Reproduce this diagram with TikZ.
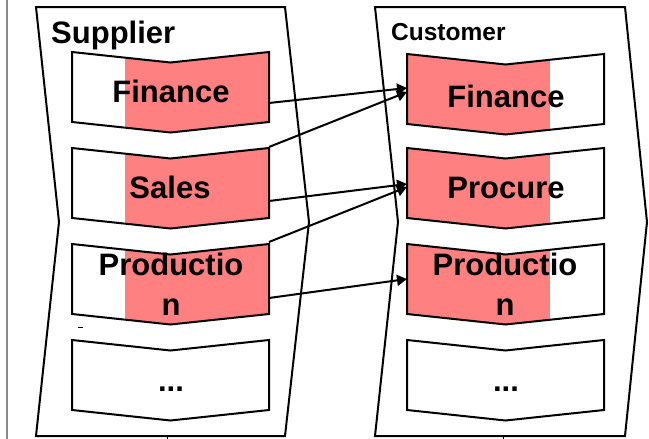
\documentclass[tikz,border=0pt]{standalone}
\usepackage{fontspec}
\setmainfont{Liberation Sans}
\usetikzlibrary{arrows.meta}
\definecolor{boxred}{RGB}{255,128,128}
\definecolor{edgegray}{RGB}{138,138,138}
\tikzset{
  boxline/.style={draw=black, line width=2pt},
  outerline/.style={draw=black, line width=2pt},
  conn/.style={draw=black, line width=2pt, -{Triangle[length=10pt,width=11pt]}},
  lbl/.style={inner sep=0pt, font=\fontsize{31}{40}\selectfont\bfseries, align=center},
}
\newcommand\chevfilled[4]{%
  \begin{scope}
    \clip (#1,#2) -- (#1+98.5,#2+10.5) -- (#1+197,#2) -- (#1+197,#2+70) -- (#1+98.5,#2+80.5) -- (#1,#2+70) -- cycle;
    \fill[boxred] (#3,#2-3) rectangle (#4,#2+86);
  \end{scope}
  \draw[boxline] (#1,#2) -- (#1+98.5,#2+10.5) -- (#1+197,#2) -- (#1+197,#2+70) -- (#1+98.5,#2+80.5) -- (#1,#2+70) -- cycle;
}
\newcommand\chevempty[2]{%
  \draw[boxline] (#1,#2) -- (#1+98.5,#2+10.5) -- (#1+197,#2) -- (#1+197,#2+70) -- (#1+98.5,#2+80.5) -- (#1,#2+70) -- cycle;
}
\begin{document}
\begin{tikzpicture}[x=1pt,y=-1pt]
\useasboundingbox[fill=white] (0,0) rectangle (649,439);
% left grey rule
\draw[edgegray, line width=2.5pt] (7,0) -- (7,439);
% outer chevrons
\draw[outerline] (36,7) -- (285,7) -- (309,222) -- (285,436) -- (36,436) -- (59,222) -- cycle;
\draw[outerline] (375,7) -- (625,7) -- (647,222) -- (625,436) -- (375,436) -- (398,222) -- cycle;
\draw[line width=1pt] (167,436) -- (167,439);
\draw[line width=1pt] (503,436) -- (503,439);
\draw[line width=1pt] (78,327) -- (83,327);
% headings
\node[inner sep=0pt, anchor=base west, font=\fontsize{31}{36}\selectfont\bfseries] (sup) at (51,43) {Supplier};
\node[inner sep=0pt, anchor=base west, font=\fontsize{24.5}{28}\selectfont\bfseries] (cus) at (391,40) {Customer};
% supplier boxes
\chevfilled{72}{52}{125}{269}
\chevfilled{72}{148}{125}{269}
\chevfilled{72}{244}{125}{269}
\chevempty{72}{340}
% customer boxes
\chevfilled{407}{54}{407}{550}
\chevfilled{407}{148}{407}{550}
\chevfilled{407}{244}{407}{550}
\chevempty{407}{340}
% labels
\node[lbl, anchor=base] (sfin) at (171,102) {Finance};
\node[lbl, anchor=base] (ssal) at (170,198) {Sales};
\node[lbl, anchor=base] (sprd) at (171,315) {Productio\\n};
\node[lbl, anchor=base] (sdot) at (171,391) {...};
\node[lbl, anchor=base] (cfin) at (506,107) {Finance};
\node[lbl, anchor=base] (cpro) at (506,198) {Procure};
\node[lbl, anchor=base] (cprd) at (505,315) {Productio\\n};
\node[lbl, anchor=base] (cdot) at (506,391) {...};
% connector endpoints
\coordinate (a1s) at (269,103); \coordinate (a1e) at (407,88);
\coordinate (a2s) at (269,147); \coordinate (a2e) at (407,92);
\coordinate (a3s) at (269,201); \coordinate (a3e) at (407,184);
\coordinate (a4s) at (269,242); \coordinate (a4e) at (407,187);
\coordinate (a5s) at (269,298); \coordinate (a5e) at (407,279);
\draw[conn] (a1s) -- (a1e);
\draw[conn] (a2s) -- (a2e);
\draw[conn] (a3s) -- (a3e);
\draw[conn] (a4s) -- (a4e);
\draw[conn] (a5s) -- (a5e);
\end{tikzpicture}
\end{document}
